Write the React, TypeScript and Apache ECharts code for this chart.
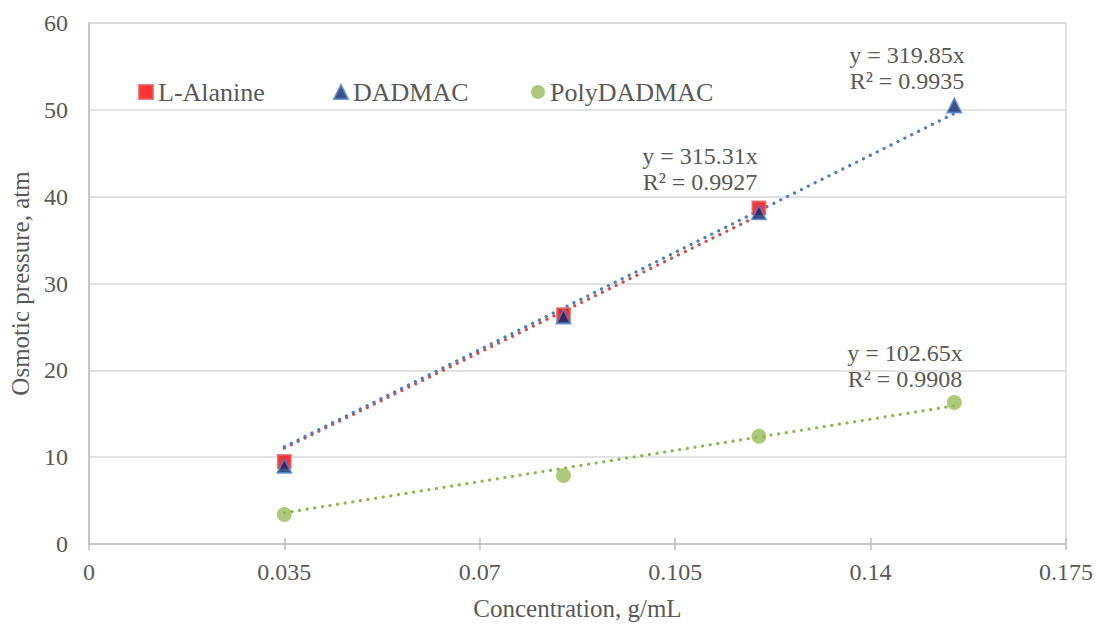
import React, { useEffect, useRef } from "react";
import * as echarts from "echarts";

// ---- Data ----
const concentrations = [0.035, 0.085, 0.12, 0.155];
const lAlanine = [9.5, 26.4, 38.7];
const dadmac = [9.0, 26.2, 38.2, 50.5];
const polyDadmac = [3.4, 7.9, 12.4, 16.3];
const seriesNames = ["L-Alanine", "DADMAC", "PolyDADMAC"];
const trendSlopes = [315.31, 319.85, 102.65];
const trendR2 = ["0.9927", "0.9935", "0.9908"];
const xTickValues = [0, 0.035, 0.07, 0.105, 0.14, 0.175];
const yTickValues = [0, 10, 20, 30, 40, 50, 60];

const FONT = '"Liberation Serif", "Times New Roman", serif';
const TEXT = "#595959";

function pairs(vals: number[]) {
  return vals.map((v, i) => [concentrations[i], v]);
}
function trend(vals: number[], slope: number) {
  const x0 = concentrations[0];
  const x1 = concentrations[vals.length - 1];
  return [
    [x0, slope * x0],
    [x1, slope * x1],
  ];
}

export default function App() {
  const ref = useRef<HTMLDivElement>(null);
  useEffect(() => {
    if (!ref.current) return;
    const chart = echarts.init(ref.current, undefined, { renderer: "svg" });
    const xMin = xTickValues[0];
    const xMax = xTickValues[xTickValues.length - 1];
    const xInt = xTickValues[1] - xTickValues[0];
    const yMin = yTickValues[0];
    const yMax = yTickValues[yTickValues.length - 1];
    const yInt = yTickValues[1] - yTickValues[0];

    const trendLine = (color: string) => ({
      color,
      width: 3.2,
      type: [0.1, 7.6],
      cap: "round",
    });

    const legendBase = {
      top: 74,
      itemWidth: 14,
      itemHeight: 14,
      itemGap: 0,
      textStyle: { fontFamily: FONT, fontSize: 26, color: TEXT },
      selectedMode: false,
    };

    const option: any = {
      animation: false,
      backgroundColor: "#ffffff",
      grid: {
        left: 88,
        top: 23,
        right: 30,
        bottom: 79,
        show: true,
        borderColor: "#D9D9D9",
        borderWidth: 1.5,
        backgroundColor: "transparent",
      },
      legend: [
        { ...legendBase, left: 133, data: [{ name: seriesNames[0], icon: "rect" }] },
        { ...legendBase, left: 328, data: [{ name: seriesNames[1], icon: "triangle" }] },
        { ...legendBase, left: 526, data: [{ name: seriesNames[2], icon: "circle" }] },
      ],
      xAxis: [
        {
          type: "value",
          min: xMin,
          max: xMax,
          interval: xInt,
          name: "Concentration, g/mL",
          nameLocation: "middle",
          nameGap: 52,
          nameTextStyle: { fontFamily: FONT, fontSize: 25, color: TEXT },
          axisLine: { show: true, lineStyle: { color: "#BFBFBF", width: 1.5 } },
          axisTick: { show: true, length: 6, lineStyle: { color: "#BFBFBF", width: 1.5 } },
          axisLabel: {
            fontFamily: FONT,
            fontSize: 24,
            color: TEXT,
            margin: 16,
            formatter: (v: number) => String(+v.toFixed(3)),
          },
          splitLine: { show: false },
        },
        {
          type: "value",
          min: xMin,
          max: xMax,
          interval: xInt,
          position: "bottom",
          offset: 0,
          axisLine: { show: false },
          axisTick: { show: true, inside: true, length: 6, lineStyle: { color: "#BFBFBF", width: 1.5 } },
          axisLabel: { show: false },
          splitLine: { show: false },
        },
      ],
      yAxis: {
        type: "value",
        min: yMin,
        max: yMax,
        interval: yInt,
        name: "Osmotic pressure, atm",
        nameLocation: "middle",
        nameGap: 52,
        nameTextStyle: { fontFamily: FONT, fontSize: 25, color: TEXT },
        axisLine: { show: true, lineStyle: { color: "#BFBFBF", width: 1.5 } },
        axisTick: { show: false },
        axisLabel: { fontFamily: FONT, fontSize: 24, color: TEXT, margin: 21 },
        splitLine: { show: true, lineStyle: { color: "#D9D9D9", width: 1.5 } },
      },
      series: [
        {
          name: "trend-lalanine",
          type: "line",
          data: trend(lAlanine, trendSlopes[0]),
          showSymbol: false,
          symbol: "none",
          lineStyle: trendLine("#D0504D"),
          z: 2,
          silent: true,
        },
        {
          name: "trend-dadmac",
          type: "line",
          data: trend(dadmac, trendSlopes[1]),
          showSymbol: false,
          symbol: "none",
          lineStyle: trendLine("#4A7CC9"),
          z: 3,
          silent: true,
        },
        {
          name: "trend-poly",
          type: "line",
          data: trend(polyDadmac, trendSlopes[2]),
          showSymbol: false,
          symbol: "none",
          lineStyle: trendLine("#8DB74F"),
          z: 3,
          silent: true,
        },
        {
          name: seriesNames[0],
          type: "scatter",
          data: pairs(lAlanine),
          symbol: "rect",
          symbolSize: 13,
          itemStyle: { color: "#FF0000", borderColor: "#E0605C", borderWidth: 1.8 },
          z: 5,
        },
        {
          name: seriesNames[1],
          type: "scatter",
          data: pairs(dadmac),
          symbol: "triangle",
          symbolSize: 14,
          itemStyle: { color: "#0C2461", borderColor: "#4F81C9", borderWidth: 1.8 },
          z: 6,
        },
        {
          name: seriesNames[2],
          type: "scatter",
          data: pairs(polyDadmac),
          symbol: "circle",
          symbolSize: 15,
          itemStyle: { color: "#9BBB59" },
          z: 5,
        },
      ],
      graphic: [
        {
          type: "text",
          x: 700,
          y: 143,
          style: {
            text: `y = ${trendSlopes[0]}x\nR² = ${trendR2[0]}`,
            align: "center",
            font: `24px ${FONT}`,
            lineHeight: 26,
            fill: TEXT,
          },
        },
        {
          type: "text",
          x: 907,
          y: 42,
          style: {
            text: `y = ${trendSlopes[1]}x\nR² = ${trendR2[1]}`,
            align: "center",
            font: `24px ${FONT}`,
            lineHeight: 26,
            fill: TEXT,
          },
        },
        {
          type: "text",
          x: 905,
          y: 340,
          style: {
            text: `y = ${trendSlopes[2]}x\nR² = ${trendR2[2]}`,
            align: "center",
            font: `24px ${FONT}`,
            lineHeight: 26,
            fill: TEXT,
          },
        },
      ],
    };
    chart.setOption(option);
    return () => chart.dispose();
  }, []);
  return (
    <div
      ref={ref}
      style={{ position: "absolute", left: 0, top: 0, width: 1096, height: 626 }}
    />
  );
}
